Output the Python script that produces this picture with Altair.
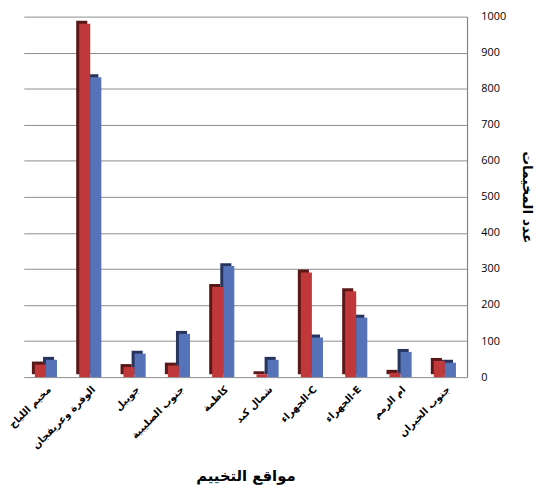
import altair as alt
import pandas as pd

sites = ["مخيم اللياح", "الوفرة وعريفجان", "جويبل", "جنوب الصليبية", "كاظمة",
         "شمال كبد", "الجهراء-C", "الجهراء-E", "ام الرمم", "جنوب الخيران"]
series_a = [35, 980, 28, 32, 250, 8, 290, 238, 12, 45]
series_b = [48, 832, 65, 120, 308, 48, 110, 165, 70, 40]
series_names = ["A", "B"]
y_ticks = [0, 100, 200, 300, 400, 500, 600, 700, 800, 900, 1000]

rows = []
for i, s in enumerate(sites):
    rows.append({"site": s, "series": series_names[0], "value": series_a[i]})
    rows.append({"site": s, "series": series_names[1], "value": series_b[i]})
df = pd.DataFrame(rows)

W = 450
H = 366
band = W / 10 * 0.5  # bandwidth of x band scale
depth = 3

x_enc = alt.X("site:N", sort=sites,
              scale=alt.Scale(paddingInner=0.5, paddingOuter=0.25),
              axis=alt.Axis(title="مواقع التخييم", labelAngle=-45, labelAlign="right",
                            labelBaseline="top", labelFont="DejaVu Sans",
                            labelFontWeight="bold", labelFontSize=10, labelColor="#000",
                            labelPadding=7, ticks=False, domain=False, grid=False,
                            titleFont="DejaVu Sans", titleFontSize=15, titleFontWeight="bold",
                            titleColor="#000", titlePadding=19, labelLimit=200))
y_enc = alt.Y("value:Q", scale=alt.Scale(domain=[0, 1000], nice=False),
              axis=alt.Axis(orient="right", values=y_ticks, format="d", title="عدد المخيمات",
                            titleAngle=90, titleFont="DejaVu Sans", titleFontSize=14,
                            titleFontWeight="bold", titleColor="#000", titlePadding=14,
                            labelFont="Open Sans", labelFontSize=11, labelColor="#000",
                            labelPadding=14, tickSize=0, domainColor="#8c8378",
                            domainWidth=1.2, grid=True, gridColor="#8c8c8c", gridWidth=1,
                            gridOpacity=1))

shade = alt.Chart(df).mark_bar(yOffset=-depth, y2Offset=-depth).encode(
    x=x_enc,
    xOffset=alt.XOffset("series:N", sort=series_names,
                        scale=alt.Scale(domain=series_names, range=[-depth, band - depth],
                                        paddingInner=0, paddingOuter=0)),
    y=y_enc,
    color=alt.Color("series:N", sort=series_names,
                    scale=alt.Scale(domain=series_names, range=["#5a1717", "#26345e"]),
                    legend=None),
)
front = alt.Chart(df).mark_bar().encode(
    x=x_enc,
    xOffset=alt.XOffset("series:N", sort=series_names,
                        scale=alt.Scale(domain=series_names, range=[0, band],
                                        paddingInner=0, paddingOuter=0)),
    y=y_enc,
    fill=alt.Fill("series:N", sort=series_names,
                  scale=alt.Scale(domain=series_names, range=["#c0383a", "#5672b8"]),
                  legend=None),
)

chart = alt.layer(shade, front).resolve_scale(color="independent", xOffset="independent").properties(
    width=W, height=H,
    autosize=alt.AutoSizeParams(type="none"),
    padding={"left": 16, "top": 5, "right": 69, "bottom": 121},
).configure_view(stroke=None)

chart.save("out.html", embed_options={"renderer": "svg", "actions": False})
